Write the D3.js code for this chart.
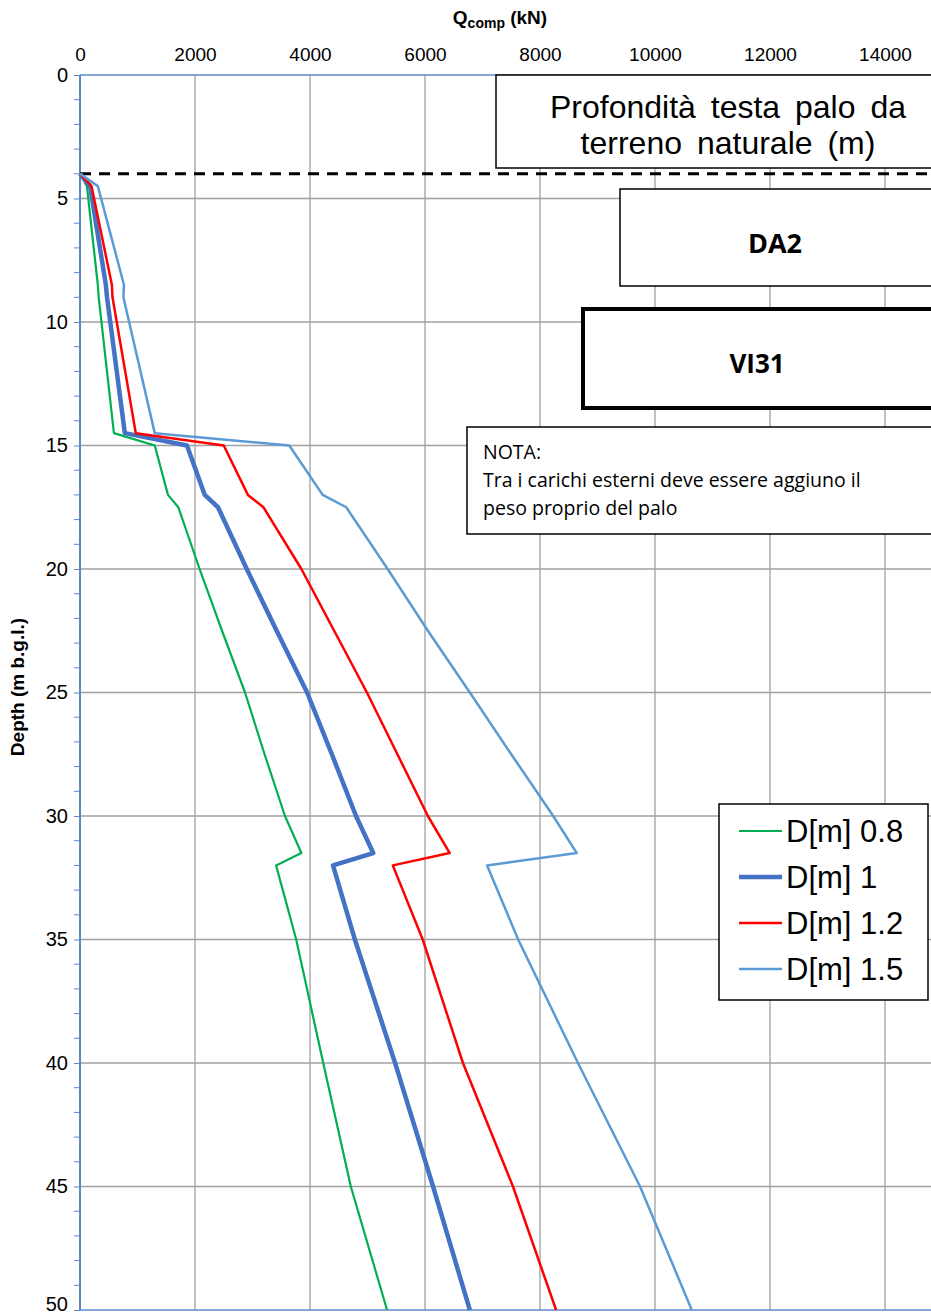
<!DOCTYPE html>
<html>
<head>
<meta charset="utf-8">
<script src="https://cdn.jsdelivr.net/npm/d3@7"></script>
<style>
  body { margin: 0; background: #fff; }
  svg { display: block; }
  .tick text { font-family: "Liberation Sans Narrow", "Liberation Sans", Arial, sans-serif; font-size: 19px; fill: #000; }
</style>
</head>
<body>
<div id="chart"></div>
<script>
// data //
var depths   = [4, 4.5, 8.5, 9, 14.5, 15, 17, 17.5, 20, 22.5, 25, 27.5, 30, 31.5, 32, 35, 40, 45, 50];
var d08  = [0, 120, 310, 325, 590, 1300, 1530, 1710, 2080, 2470, 2870, 3210, 3565, 3850, 3410, 3760, 4230, 4710, 5340];
var d10  = [0, 175, 450, 470, 780, 1860, 2170, 2400, 2900, 3420, 3950, 4380, 4800, 5100, 4400, 4780, 5480, 6140, 6780];
var d12  = [0, 200, 555, 565, 970, 2500, 2920, 3190, 3850, 4420, 4990, 5520, 6050, 6430, 5440, 5960, 6660, 7530, 8280];
var d15  = [0, 310, 765, 755, 1300, 3640, 4220, 4630, 5350, 6050, 6780, 7500, 8230, 8640, 7080, 7620, 8660, 9740, 10640];
var seriesNames = ["D[m] 0.8", "D[m] 1", "D[m] 1.2", "D[m] 1.5"];
var xTicks = [0, 2000, 4000, 6000, 8000, 10000, 12000, 14000];
var yTicks = [0, 5, 10, 15, 20, 25, 30, 35, 40, 45, 50];
var pileHead = 4;

var width = 931, height = 1316;
var colors = ["#00B050", "#4472C4", "#FF0000", "#5B9BD5"];
var widths = [2.2, 4.5, 2.5, 2.5];

var svg = d3.select("#chart").append("svg")
  .attr("width", width)
  .attr("height", height)
  .style("overflow", "hidden");

// chart runs off the right edge, like the reference
var x = d3.scaleLinear().domain([0, 16000]).range([80, 1000]);
var y = d3.scaleLinear().domain([0, 50]).range([75, 1310]);

// gridlines
svg.append("g").selectAll("line")
  .data(xTicks.slice(1))
  .enter().append("line")
  .attr("x1", x).attr("x2", x)
  .attr("y1", y(0)).attr("y2", y(50))
  .attr("stroke", "#a0a0a0").attr("stroke-width", 1.3);

svg.append("g").selectAll("line")
  .data(yTicks.slice(1, -1))
  .enter().append("line")
  .attr("x1", x(0)).attr("x2", width)
  .attr("y1", y).attr("y2", y)
  .attr("stroke", "#a0a0a0").attr("stroke-width", 1.3);

// top axis (labels only)
var gx = svg.append("g")
  .attr("transform", "translate(0," + y(0) + ")")
  .call(d3.axisTop(x).tickValues(xTicks).tickSize(0).tickPadding(14).tickFormat(d3.format("d")));
gx.select(".domain").remove();

// left axis with minor ticks
var gy = svg.append("g")
  .attr("transform", "translate(" + x(0) + ",0)")
  .call(d3.axisLeft(y).tickValues(yTicks).tickSize(6).tickPadding(6));
gy.select(".domain").remove();
gy.selectAll(".tick line").attr("stroke", "#5B87C8");
gy.selectAll(".tick text").style("font-size", "20px");
// last label sits on the bottom edge
gy.selectAll(".tick text").filter(function(d) { return d == 50; }).attr("dy", "0.02em");
svg.append("g").selectAll("line")
  .data(d3.range(1, 50).filter(function(d) { return d % 5 != 0; }))
  .enter().append("line")
  .attr("x1", x(0) - 6).attr("x2", x(0))
  .attr("y1", y).attr("y2", y)
  .attr("stroke", "#5B87C8");

// axis frame lines
svg.append("line").attr("x1", x(0)).attr("x2", width).attr("y1", y(0)).attr("y2", y(0))
  .attr("stroke", "#5B87C8").attr("stroke-width", 1.5);
svg.append("line").attr("x1", x(0)).attr("x2", width).attr("y1", y(50)).attr("y2", y(50))
  .attr("stroke", "#5B87C8").attr("stroke-width", 1.5);
svg.append("line").attr("x1", x(0)).attr("x2", x(0)).attr("y1", y(0)).attr("y2", y(50))
  .attr("stroke", "#5B87C8").attr("stroke-width", 2);

// axis titles
var title = svg.append("text")
  .attr("x", 500).attr("y", 24)
  .attr("text-anchor", "middle")
  .style("font-family", "Liberation Sans, Arial, sans-serif")
  .style("font-size", "19px").style("font-weight", "bold");
title.append("tspan").text("Q");
title.append("tspan").attr("dy", 4).style("font-size", "14px").text("comp");
title.append("tspan").attr("dy", -4).text(" (kN)");

svg.append("text")
  .attr("transform", "translate(24,687) rotate(-90)")
  .attr("text-anchor", "middle")
  .style("font-family", "Liberation Sans, Arial, sans-serif")
  .style("font-size", "19px").style("font-weight", "bold")
  .text("Depth (m b.g.l.)");

// pile head depth
svg.append("line")
  .attr("x1", x(0)).attr("x2", width)
  .attr("y1", y(pileHead)).attr("y2", y(pileHead))
  .attr("stroke", "#000").attr("stroke-width", 3)
  .attr("stroke-dasharray", "11,8");

// series
var all = [d08, d10, d12, d15];
var line = d3.line()
  .x(function(d) { return x(d[0]); })
  .y(function(d) { return y(d[1]); });

all.forEach(function(vals, i) {
  svg.append("path")
    .datum(vals.map(function(v, j) { return [v, depths[j]]; }))
    .attr("d", line)
    .attr("fill", "none")
    .attr("stroke", colors[i])
    .attr("stroke-width", widths[i])
    .attr("stroke-linejoin", "round");
});

// text boxes
function box(x0, y0, w, h, sw) {
  svg.append("rect")
    .attr("x", x0).attr("y", y0).attr("width", w).attr("height", h)
    .attr("fill", "#fff").attr("stroke", "#000").attr("stroke-width", sw);
}

box(496, 75, 470, 93, 1.5);
svg.append("text")
  .attr("x", 728).attr("text-anchor", "middle")
  .style("font-family", "Liberation Sans, Arial, sans-serif")
  .style("font-size", "32px").style("word-spacing", "6px")
  .selectAll("tspan")
  .data(["Profondità testa palo da", "terreno naturale (m)"])
  .enter().append("tspan")
  .attr("x", 728)
  .attr("y", function(d, i) { return 118 + i * 36; })
  .text(function(d) { return d; });

box(620, 189, 330, 97, 1.5);
svg.append("text")
  .attr("x", 775).attr("y", 253)
  .attr("text-anchor", "middle")
  .style("font-family", "Open Sans, Noto Sans, sans-serif")
  .style("font-size", "27px").style("font-weight", "bold")
  .text("DA2");

box(583, 309, 370, 99, 4);
svg.append("text")
  .attr("x", 757).attr("y", 373)
  .attr("text-anchor", "middle")
  .style("font-family", "Open Sans, Noto Sans, sans-serif")
  .style("font-size", "26px").style("font-weight", "bold")
  .text("VI31");

box(467, 427, 480, 107, 1.5);
svg.append("text")
  .style("font-family", "Open Sans, Noto Sans, sans-serif")
  .style("font-size", "19.5px")
  .selectAll("tspan")
  .data(["NOTA:", "Tra i carichi esterni deve essere aggiuno il", "peso proprio del palo"])
  .enter().append("tspan")
  .attr("x", 483)
  .attr("y", function(d, i) { return 459 + i * 28; })
  .text(function(d) { return d; });

// legend
box(719, 804, 209, 196, 1.5);
var lg = svg.append("g").selectAll("g")
  .data(seriesNames)
  .enter().append("g")
  .attr("transform", function(d, i) { return "translate(0," + (831 + i * 46) + ")"; });
lg.append("line")
  .attr("x1", 739).attr("x2", 782)
  .attr("stroke", function(d, i) { return colors[i]; })
  .attr("stroke-width", function(d, i) { return widths[i]; });
lg.append("text")
  .attr("x", 786).attr("y", 11)
  .style("font-family", "Liberation Sans, Arial, sans-serif")
  .style("font-size", "31px")
  .text(function(d) { return d; });
</script>
</body>
</html>
